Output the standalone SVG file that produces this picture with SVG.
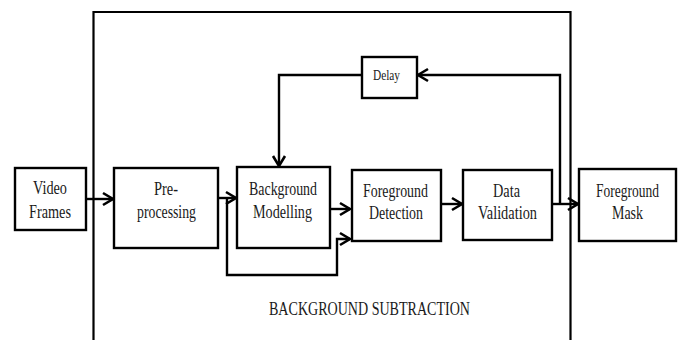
<svg xmlns="http://www.w3.org/2000/svg" width="680" height="340" viewBox="0 0 680 340">
  <defs>
    <marker id="arr" markerUnits="userSpaceOnUse" markerWidth="14" markerHeight="16" refX="11" refY="7" orient="auto" viewBox="0 0 14 14">
      <path d="M1,1 L11,7 L1,13" fill="none" stroke="#000" stroke-width="2.6" stroke-linejoin="miter"/>
    </marker>
    <style>
      .box { fill: #fff; stroke: #000; stroke-width: 2.4; }
      .lbl { font-family: "Liberation Serif", "Times New Roman", serif; font-size: 18px; fill: #1a1a1a; text-anchor: middle; }
      .small { font-size: 14px; }
      .edge { fill: none; stroke: #000; stroke-width: 2.4; }
      .frame { fill: none; stroke: #000; stroke-width: 2.2; }
    </style>
  </defs>
  <rect x="0" y="0" width="680" height="340" fill="#fff"/>

  <g id="frame">
    <path class="frame" d="M93.5,340 V12 H570.5 V340"/>
    <text class="lbl" x="369.5" y="315" textLength="201" lengthAdjust="spacingAndGlyphs">BACKGROUND SUBTRACTION</text>
  </g>

  <g id="connectors">
    <path class="edge" d="M86,199 H113" marker-end="url(#arr)"/>
    <path class="edge" d="M218,198 H236" marker-end="url(#arr)"/>
    <path class="edge" d="M227,198 V275 H337 V239 H350" marker-end="url(#arr)"/>
    <path class="edge" d="M330,209 H350" marker-end="url(#arr)"/>
    <path class="edge" d="M441,204 H462" marker-end="url(#arr)"/>
    <path class="edge" d="M552,204 H578" marker-end="url(#arr)"/>
    <path class="edge" d="M560,204 V75 H418" marker-end="url(#arr)"/>
    <path class="edge" d="M362,75 H279 V166" marker-end="url(#arr)"/>
  </g>

  <g id="video-frames">
    <rect class="box" x="15" y="168" width="71" height="62"/>
    <text class="lbl" x="50" y="194" textLength="34" lengthAdjust="spacingAndGlyphs">Video</text>
    <text class="lbl" x="50" y="218" textLength="42" lengthAdjust="spacingAndGlyphs">Frames</text>
  </g>

  <g id="pre-processing">
    <rect class="box" x="114" y="168" width="104" height="80"/>
    <text class="lbl" x="166" y="195" textLength="24" lengthAdjust="spacingAndGlyphs">Pre-</text>
    <text class="lbl" x="166.5" y="218" textLength="59" lengthAdjust="spacingAndGlyphs">processing</text>
  </g>

  <g id="background-modelling">
    <rect class="box" x="237" y="167" width="93" height="81"/>
    <text class="lbl" x="283" y="195" textLength="68" lengthAdjust="spacingAndGlyphs">Background</text>
    <text class="lbl" x="282.5" y="218" textLength="59" lengthAdjust="spacingAndGlyphs">Modelling</text>
  </g>

  <g id="delay">
    <rect class="box" x="362" y="57" width="55" height="41"/>
    <text class="lbl small" x="386.5" y="80" textLength="27" lengthAdjust="spacingAndGlyphs">Delay</text>
  </g>

  <g id="foreground-detection">
    <rect class="box" x="352" y="170" width="89" height="71"/>
    <text class="lbl" x="395.5" y="197" textLength="65" lengthAdjust="spacingAndGlyphs">Foreground</text>
    <text class="lbl" x="396" y="219" textLength="54" lengthAdjust="spacingAndGlyphs">Detection</text>
  </g>

  <g id="data-validation">
    <rect class="box" x="463" y="170" width="89" height="70"/>
    <text class="lbl" x="506.5" y="197" textLength="27" lengthAdjust="spacingAndGlyphs">Data</text>
    <text class="lbl" x="507.5" y="219" textLength="59" lengthAdjust="spacingAndGlyphs">Validation</text>
  </g>

  <g id="foreground-mask">
    <rect class="box" x="579" y="169" width="97" height="72"/>
    <text class="lbl" x="627.5" y="197" textLength="63" lengthAdjust="spacingAndGlyphs">Foreground</text>
    <text class="lbl" x="627.5" y="219" textLength="31" lengthAdjust="spacingAndGlyphs">Mask</text>
  </g>
</svg>
